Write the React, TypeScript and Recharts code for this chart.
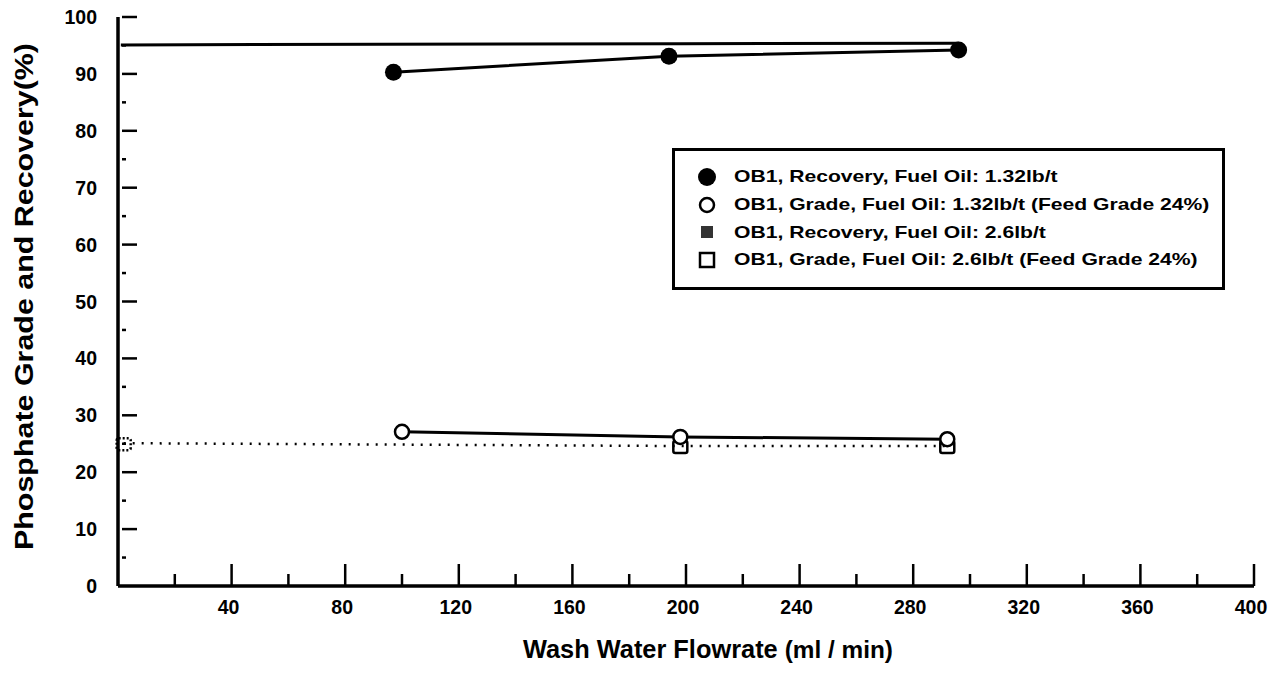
import { LineChart, Line, XAxis, YAxis } from 'recharts';

// wash water flowrate (ml/min) and % values
const flowRec132 = [97, 194, 296];
const recovery132 = [90.3, 93.1, 94.2];
const flowGrade132 = [100, 198, 292];
const grade132 = [27.1, 26.2, 25.8];
const flowRec26 = [1, 198, 296];
const recovery26 = [95.1, 95.3, 95.4];
const flowGrade26 = [2, 198, 292];
const grade26 = [25.1, 24.6, 24.6];

const xTicks = [0, 20, 40, 60, 80, 100, 120, 140, 160, 180, 200, 220, 240, 260, 280, 300, 320, 340, 360, 380, 400];
const yTicks = [0, 5, 10, 15, 20, 25, 30, 35, 40, 45, 50, 55, 60, 65, 70, 75, 80, 85, 90, 95, 100];

const legendLabels = [
  'OB1, Recovery, Fuel Oil: 1.32lb/t',
  'OB1, Grade, Fuel Oil: 1.32lb/t (Feed Grade 24%)',
  'OB1, Recovery, Fuel Oil: 2.6lb/t',
  'OB1, Grade, Fuel Oil: 2.6lb/t (Feed Grade 24%)',
];

const toPoints = (xs: number[], ys: number[]) => xs.map((x, i) => ({ flow: x, value: ys[i] }));

const FONT = '"Liberation Sans", Arial, Helvetica, sans-serif';

const XTick = ({ x, y, payload }: any) => {
  const v = payload.value;
  const major = v % 40 === 0;
  if (v === 0) return <g />;
  return (
    <g>
      <line x1={x} x2={x} y1={y} y2={y - (major ? 22 : 12)} stroke="#000" strokeWidth={2.5} />
      {major && (
        <text x={x - 3} y={y + 28} textAnchor="middle" fontSize={19.5} fontWeight="bold" fontFamily={FONT} fill="#000">
          {v}
        </text>
      )}
    </g>
  );
};

const YTick = ({ x, y, payload }: any) => {
  const v = payload.value;
  const major = v % 10 === 0;
  return (
    <g>
      {v !== 0 && (
        <line x1={x + 4} x2={x + (major ? 19 : 8)} y1={y} y2={y} stroke="#000" strokeWidth={2.5} />
      )}
      {major && (
        <text x={x - 21} y={y + 7} textAnchor="end" fontSize={19.5} fontWeight="bold" fontFamily={FONT} fill="#000">
          {v}
        </text>
      )}
    </g>
  );
};

const FilledDot = (p: any) => <circle key={`f-${p.index}`} cx={p.cx} cy={p.cy} r={8.5} fill="#000" />;
const OpenDot = (p: any) => (
  <circle key={`o-${p.index}`} cx={p.cx} cy={p.cy} r={7} fill="#fff" stroke="#000" strokeWidth={2.5} />
);
const SquareDot = (p: any) => (
  <rect
    key={`s-${p.index}`}
    x={p.cx - 7}
    y={p.cy - 5}
    width={14}
    height={12}
    rx={2}
    fill="none"
    stroke="#000"
    strokeWidth={2.5}
    strokeDasharray={p.index === 0 ? '2 2' : undefined}
  />
);

const legendMarks = [
  <circle cx={10} cy={10} r={9} fill="#000" />,
  <circle cx={10} cy={10} r={7} fill="none" stroke="#000" strokeWidth={2.5} />,
  <rect x={4} y={4} width={12} height={12} fill="#333" />,
  <rect x={3} y={3} width={14} height={14} fill="none" stroke="#000" strokeWidth={2.5} />,
];

const LegendBox = () => (
  <div
    style={{
      position: 'absolute',
      left: 672,
      top: 148,
      width: 553,
      height: 142,
      boxSizing: 'border-box',
      border: '3px solid #000',
      background: '#fff',
      paddingTop: 12,
      fontFamily: FONT,
    }}
  >
    {legendLabels.map((label, i) => (
      <div key={label} style={{ display: 'flex', alignItems: 'center', height: 27.7 }}>
        <svg width={20} height={20} style={{ marginLeft: 22, marginRight: 17, flexShrink: 0 }}>
          {legendMarks[i]}
        </svg>
        <span
          style={{
            display: 'inline-block',
            fontSize: 16.5,
            fontWeight: 'bold',
            color: '#000',
            whiteSpace: 'nowrap',
            transform: 'scaleX(1.28)',
            transformOrigin: 'left center',
          }}
        >
          {label}
        </span>
      </div>
    ))}
  </div>
);

export default function App() {
  return (
    <div style={{ position: 'relative', width: 1278, height: 675, background: '#fff' }}>
      <style>{'body{margin:0}'}</style>
      <LineChart width={1278} height={675} margin={{ top: 17, right: 24, bottom: 0, left: 0 }}>
        <XAxis
          type="number"
          dataKey="flow"
          domain={[0, 400]}
          ticks={xTicks}
          interval={0}
          height={89}
          tickSize={0}
          tickMargin={0}
          tick={XTick}
          axisLine={{ stroke: '#000', strokeWidth: 3.5 }}
          allowDuplicatedCategory={false}
          label={(props: any) => {
            const vb = props.viewBox;
            return (
              <text
                x={523}
                y={vb.y + 72}
                textAnchor="start"
                fontFamily={FONT}
                fontSize={25}
                fill="#000"
                textLength={370}
                lengthAdjust="spacingAndGlyphs"
              >
                <tspan fontWeight="bold">Wash Water Flowrate </tspan>
                <tspan fontWeight="bold" fontSize={24}>(ml / min)</tspan>
              </text>
            );
          }}
        />
        <YAxis
          type="number"
          domain={[0, 100]}
          ticks={yTicks}
          interval={0}
          width={118}
          tickSize={0}
          tickMargin={0}
          tick={YTick}
          axisLine={{ stroke: '#000', strokeWidth: 3.5 }}
          label={(props: any) => {
            const vb = props.viewBox;
            const cy = vb.y + vb.height / 2 - 5;
            return (
              <text
                x={33}
                y={cy}
                transform={`rotate(-90 33 ${cy})`}
                textAnchor="middle"
                fontFamily={FONT}
                fontSize={26.5}
                fontWeight="bold"
                fill="#000"
                textLength={507}
                lengthAdjust="spacingAndGlyphs"
              >
                Phosphate Grade and Recovery(%)
              </text>
            );
          }}
        />
        <Line
          data={toPoints(flowRec26, recovery26)}
          dataKey="value"
          stroke="#000"
          strokeWidth={3}
          dot={false}
          isAnimationActive={false}
        />
        <Line
          data={toPoints(flowRec132, recovery132)}
          dataKey="value"
          stroke="#000"
          strokeWidth={3}
          dot={FilledDot}
          isAnimationActive={false}
        />
        <Line
          data={toPoints(flowGrade26, grade26)}
          dataKey="value"
          stroke="#000"
          strokeWidth={2.5}
          strokeDasharray="2 7"
          dot={SquareDot}
          isAnimationActive={false}
        />
        <Line
          data={toPoints(flowGrade132, grade132)}
          dataKey="value"
          stroke="#000"
          strokeWidth={3}
          dot={OpenDot}
          isAnimationActive={false}
        />
      </LineChart>
      <LegendBox />
    </div>
  );
}
